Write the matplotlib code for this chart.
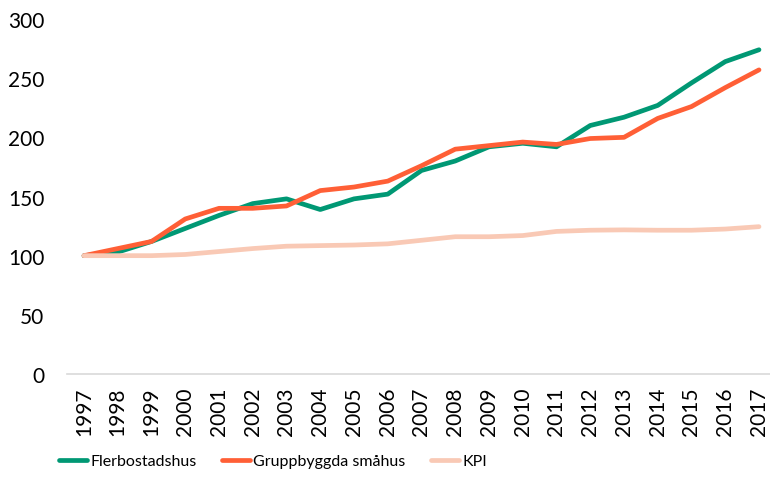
import matplotlib
matplotlib.use("Agg")
import matplotlib.pyplot as plt
from matplotlib import font_manager

years = [str(y) for y in range(1997, 2018)]
flerbostadshus = [100, 103, 112, 123, 134, 144, 148, 139, 148, 152, 172, 180, 192, 195, 192, 210, 217, 227, 246, 264, 274]
gruppbyggda = [100, 106, 112, 131, 140, 140, 142, 155, 158, 163, 176, 190, 193, 196, 194, 199, 200, 216, 226, 242, 257]
kpi = [100, 100, 100, 101, 103.5, 106, 108, 108.5, 109, 110, 113, 116, 116, 117, 120.5, 121.5, 121.8, 121.5, 121.5, 122.5, 124.5]
yticks = [0, 50, 100, 150, 200, 250, 300]

plt.rcParams['font.family'] = ['Lato', 'DejaVu Sans']
names = {f.name for f in font_manager.fontManager.ttflist}
narrow = 'Liberation Sans Narrow' if 'Liberation Sans Narrow' in names else None

fig = plt.figure(figsize=(7.7, 4.89), dpi=100)
step = 33.75
left_px = 84 - step / 2
ax = fig.add_axes([left_px/770, 1 - 375/489, 21*step/770, 355/489])

x = list(range(len(years)))
ax.plot(x, flerbostadshus, color='#009874', lw=3.4, label='Flerbostadshus', solid_capstyle='round')
ax.plot(x, gruppbyggda, color='#FF5F36', lw=3.4, label='Gruppbyggda småhus', solid_capstyle='round')
ax.plot(x, kpi, color='#F9C9B5', lw=3.4, label='KPI', solid_capstyle='round')

ax.set_ylim(0, 300)
ax.set_xlim(-0.5, 20.5)
ax.set_yticks(yticks)
ax.set_yticklabels([str(v) for v in yticks], fontsize=15)
ax.set_xticks(x)
ax.set_xticklabels(years, rotation=90, fontsize=15)
ax.tick_params(axis='both', length=0)
ax.tick_params(axis='y', pad=16.5)
ax.tick_params(axis='x', pad=9)
for s in ['top', 'right', 'left']:
    ax.spines[s].set_visible(False)
ax.spines['bottom'].set_color('#D9D9D9')
ax.spines['bottom'].set_linewidth(1.2)
ax.spines['bottom'].set_clip_on(False)

if narrow:
    lprop = {'family': [narrow, 'DejaVu Sans'], 'size': 14.5}
else:
    lprop = {'family': ['Lato', 'DejaVu Sans'], 'size': 11.5}
fig.legend(loc='center', bbox_to_anchor=(273/770, 1 - 462/489), ncol=3, frameon=False,
           prop=lprop, handlelength=1.75, handletextpad=0.2, columnspacing=1.6)

fig.savefig('out.png', dpi=100)
